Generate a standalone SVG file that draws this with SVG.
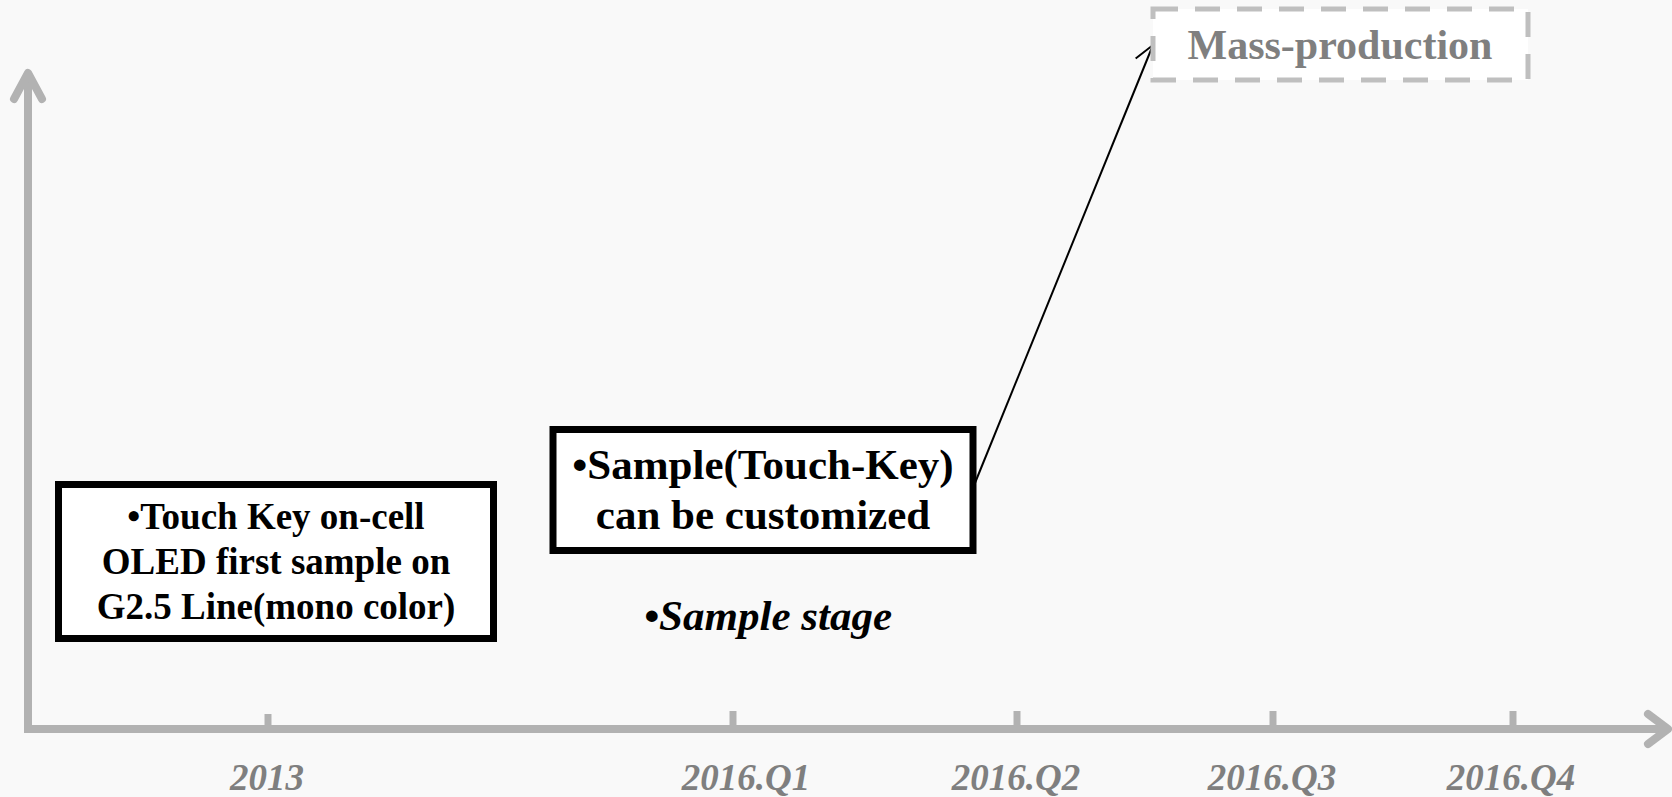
<svg xmlns="http://www.w3.org/2000/svg" width="1672" height="797" viewBox="0 0 1672 797">
  <style>
    .axis { stroke: #b2b2b2; stroke-width: 8; fill: none; }
    .head { stroke: #b2b2b2; stroke-width: 8; fill: none; stroke-linecap: round; stroke-linejoin: round; }
    .tick { stroke: #b2b2b2; stroke-width: 7; }
    .label { font-family: "Liberation Serif", "Times New Roman", serif; font-weight: bold; font-style: italic; font-size: 37px; fill: #7f7f7f; text-anchor: middle; }
    .box { fill: #ffffff; stroke: #000000; stroke-width: 7; }
    .boxtext { font-family: "Liberation Serif", "Times New Roman", serif; font-weight: bold; fill: #000000; text-anchor: middle; }
    .dashed { fill: #ffffff; stroke: #bfbfbf; stroke-width: 5; stroke-dasharray: 25 17; }
    .link { stroke: #000000; stroke-width: 2; fill: none; }
  </style>
  <defs>
    <marker id="open-arrow" markerUnits="userSpaceOnUse" markerWidth="26" markerHeight="26" viewBox="0 0 26 26" refX="22" refY="13" orient="auto">
      <path d="M3,2 L22,13 L3,24" fill="none" stroke="#000000" stroke-width="2"/>
    </marker>
  </defs>

  <rect width="1672" height="797" fill="#f9f9f9"/>

  <!-- axes -->
  <g id="axes">
    <line class="axis" x1="28" y1="76" x2="28" y2="733"/>
    <polyline class="head" points="14,99 28,73 42,99"/>
    <line class="axis" x1="28" y1="729" x2="1666" y2="729"/>
    <polyline class="head" points="1648,714 1668,729 1648,744"/>
    <line class="tick" x1="268" y1="714" x2="268" y2="726"/>
    <line class="tick" x1="733" y1="711" x2="733" y2="726"/>
    <line class="tick" x1="1017" y1="711" x2="1017" y2="726"/>
    <line class="tick" x1="1273" y1="711" x2="1273" y2="726"/>
    <line class="tick" x1="1513" y1="711" x2="1513" y2="726"/>
  </g>

  <!-- time labels -->
  <g id="time-labels">
    <text class="label" x="267" y="790">2013</text>
    <text class="label" x="746" y="790">2016.Q1</text>
    <text class="label" x="1016" y="790">2016.Q2</text>
    <text class="label" x="1272" y="790">2016.Q3</text>
    <text class="label" x="1511" y="790">2016.Q4</text>
  </g>

  <!-- connectors -->
  <g id="connectors">
    <line class="link" x1="975" y1="483" x2="1153" y2="45" marker-end="url(#open-arrow)"/>
  </g>

  <g id="first-sample">
    <rect class="box" x="58.5" y="484.5" width="435" height="154"/>
    <text class="boxtext" font-size="37" x="276" y="529">•Touch Key on-cell</text>
    <text class="boxtext" font-size="37" x="276" y="574">OLED first sample on</text>
    <text class="boxtext" font-size="37" x="276" y="619">G2.5 Line(mono color)</text>
  </g>

  <g id="custom-sample">
    <rect class="box" x="553" y="429.5" width="420" height="121"/>
    <text class="boxtext" font-size="43" x="763" y="479">•Sample(Touch-Key)</text>
    <text class="boxtext" font-size="43" x="763" y="529">can be customized</text>
  </g>

  <g id="sample-stage">
    <text class="boxtext" font-size="43" font-style="italic" x="768" y="630">•Sample stage</text>
  </g>

  <g id="mass-production">
    <rect class="dashed" x="1153" y="9" width="375" height="71"/>
    <text class="boxtext" font-size="42" x="1340" y="59" style="fill:#7f7f7f">Mass-production</text>
  </g>
</svg>
